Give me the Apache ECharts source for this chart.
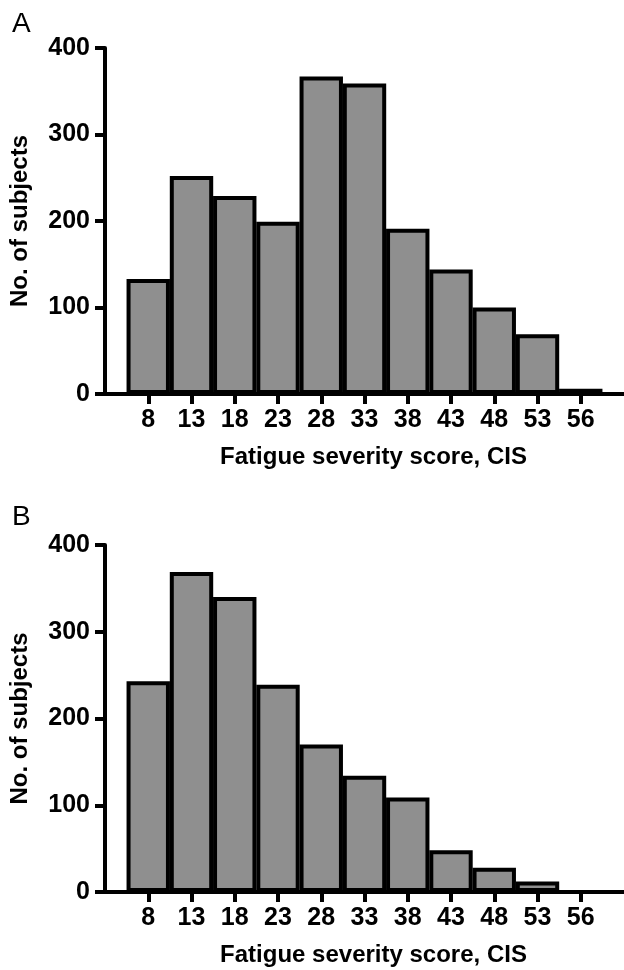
<!DOCTYPE html>
<html>
<head>
<meta charset="utf-8">
<script src="https://cdn.jsdelivr.net/npm/echarts@6/dist/echarts.min.js"></script>
<style>
  html, body { margin: 0; padding: 0; background: #fff; }
  #chart { width: 624px; height: 970px; }
</style>
</head>
<body>
<div id="chart"></div>
<script>
// CIS 分数区间 (横轴刻度)
const categories = ['8', '13', '18', '23', '28', '33', '38', '43', '48', '53', '56']
// A 组人数
const countsA = [133, 252, 229, 199, 367, 359, 191, 144, 100, 69, 6]
// B 组人数
const countsB = [243, 369, 340, 239, 170, 134, 109, 48, 28, 12, 0]
const yTicks = [0, 100, 200, 300, 400]

const font = 'Liberation Sans, Arial, Helvetica, sans-serif'
const tickIdx = categories.map((c, i) => i)

function makeX(gridIndex) {
  return {
    type: 'value',
    gridIndex: gridIndex,
    min: -1,
    max: 11,
    name: 'Fatigue severity score, CIS',
    nameLocation: 'middle',
    nameGap: 51,
    nameTextStyle: { fontFamily: font, fontWeight: 'bold', fontSize: 24, color: '#000', padding: [0, 0, 0, 18] },
    axisLine: { show: true, lineStyle: { color: '#000', width: 4 } },
    axisTick: { show: true, length: 10, customValues: tickIdx, lineStyle: { color: '#000', width: 4 } },
    axisLabel: {
      customValues: tickIdx,
      margin: 14,
      fontFamily: font,
      fontWeight: 'bold',
      fontSize: 25,
      color: '#000',
      formatter: (v) => categories[v] || '',
    },
    splitLine: { show: false },
  }
}

function makeY(gridIndex) {
  return {
    type: 'value',
    gridIndex: gridIndex,
    min: yTicks[0],
    max: yTicks[yTicks.length - 1],
    interval: 100,
    name: 'No. of subjects',
    nameLocation: 'middle',
    nameGap: 73,
    nameTextStyle: { fontFamily: font, fontWeight: 'bold', fontSize: 24, color: '#000' },
    axisLine: { show: true, onZero: false, lineStyle: { color: '#000', width: 4 } },
    axisTick: { show: true, length: 10, lineStyle: { color: '#000', width: 4 } },
    axisLabel: { margin: 15, fontFamily: font, fontWeight: 'bold', fontSize: 25, color: '#000' },
    splitLine: { show: false },
  }
}

function makeBars(gridIndex, counts) {
  return {
    type: 'bar',
    xAxisIndex: gridIndex,
    yAxisIndex: gridIndex,
    data: counts.map((v, i) => [i, v]),
    barWidth: 43.4,
    itemStyle: { color: '#8f8f8f', borderColor: '#000', borderWidth: 4 },
    silent: true,
  }
}

const chart = echarts.init(document.getElementById('chart'))
chart.setOption({
  animation: false,
  backgroundColor: '#fff',
  grid: [
    { left: 103, right: 0, top: 48, height: 346 },
    { left: 103, right: 0, top: 545, height: 347 },
  ],
  xAxis: [makeX(0), makeX(1)],
  yAxis: [makeY(0), makeY(1)],
  series: [makeBars(0, countsA), makeBars(1, countsB)],
  graphic: [
    { type: 'text', left: 12, top: 10, style: { text: 'A', fontFamily: font, fontSize: 28, fill: '#000' } },
    { type: 'text', left: 12, top: 503, style: { text: 'B', fontFamily: font, fontSize: 28, fill: '#000' } },
  ],
})
</script>
</body>
</html>
